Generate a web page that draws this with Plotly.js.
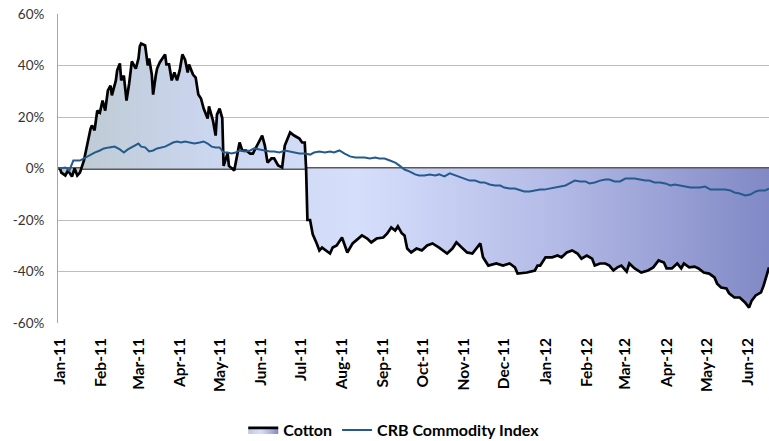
<!DOCTYPE html>
<html>
<head>
<meta charset="utf-8">
<script src="https://cdn.plot.ly/plotly-3.0.1.min.js"></script>
<style>html,body{margin:0;padding:0;background:#fff;}#chart{width:769px;height:441px;}</style>
</head>
<body>
<div id="chart"></div>
<script>
// Cotton (% change since Jan 2011)
var cottonDates = ['2011-01-01','2011-01-02','2011-01-05','2011-01-07','2011-01-10','2011-01-12','2011-01-14','2011-01-16','2011-01-19','2011-01-22','2011-01-24','2011-01-25','2011-01-27','2011-01-29','2011-01-31',
'2011-02-02','2011-02-04','2011-02-06','2011-02-08','2011-02-09','2011-02-12','2011-02-13','2011-02-15','2011-02-16','2011-02-18','2011-02-20','2011-02-22','2011-02-24','2011-02-27',
'2011-03-01','2011-03-02','2011-03-03','2011-03-06','2011-03-08','2011-03-09','2011-03-11','2011-03-12','2011-03-14','2011-03-15','2011-03-17','2011-03-18','2011-03-21','2011-03-22','2011-03-24','2011-03-26','2011-03-28','2011-03-30',
'2011-04-01','2011-04-03','2011-04-05','2011-04-07','2011-04-08','2011-04-11','2011-04-13','2011-04-15','2011-04-17','2011-04-19','2011-04-20','2011-04-22','2011-04-23','2011-04-25','2011-04-26','2011-04-28','2011-04-29',
'2011-05-01','2011-05-02','2011-05-03','2011-05-04','2011-05-07','2011-05-08','2011-05-10','2011-05-12','2011-05-16','2011-05-18','2011-05-21','2011-05-24','2011-05-26','2011-05-29',
'2011-06-02','2011-06-04','2011-06-06','2011-06-09','2011-06-11','2011-06-14','2011-06-17','2011-06-19','2011-06-23','2011-06-26','2011-06-30',
'2011-07-02','2011-07-04','2011-07-05','2011-07-06','2011-07-08','2011-07-10','2011-07-13','2011-07-15','2011-07-17','2011-07-20','2011-07-23','2011-07-25','2011-07-28',
'2011-08-01','2011-08-03','2011-08-05','2011-08-09','2011-08-12','2011-08-16','2011-08-20','2011-08-23','2011-08-27',
'2011-09-01','2011-09-04','2011-09-07','2011-09-10','2011-09-12','2011-09-15','2011-09-17','2011-09-19','2011-09-22','2011-09-26','2011-09-30',
'2011-10-04','2011-10-08','2011-10-13','2011-10-19','2011-10-23','2011-10-26','2011-10-30',
'2011-11-03','2011-11-07','2011-11-13','2011-11-15','2011-11-19','2011-11-25','2011-11-30',
'2011-12-05','2011-12-09','2011-12-11','2011-12-18','2011-12-24','2011-12-26','2011-12-28',
'2012-01-01','2012-01-06','2012-01-10','2012-01-13','2012-01-17','2012-01-21','2012-01-25','2012-01-28',
'2012-02-01','2012-02-05','2012-02-07','2012-02-11','2012-02-15','2012-02-18','2012-02-21','2012-02-24','2012-02-27',
'2012-03-02','2012-03-04','2012-03-08','2012-03-13','2012-03-18','2012-03-22','2012-03-26','2012-03-30',
'2012-04-01','2012-04-05','2012-04-09','2012-04-12','2012-04-14','2012-04-18','2012-04-22','2012-04-25','2012-04-29',
'2012-05-03','2012-05-07','2012-05-09','2012-05-12','2012-05-16','2012-05-18','2012-05-22','2012-05-26','2012-05-30',
'2012-06-02','2012-06-04','2012-06-07','2012-06-11','2012-06-13','2012-06-16','2012-06-17'];
var cottonValues = [0,-1.6,-2.7,-0.8,-3.1,0,-2.7,-1.6,3.1,10.9,15.5,16.7,14.8,22.5,21.7,
26.4,22.5,30.3,32.2,28.4,34.2,38.1,40.8,34.2,36.1,26.4,33.0,41.6,38.8,
42.7,47.4,48.5,47.8,40.0,42.7,36.5,28.7,36.1,38.8,41.2,42.0,44.3,40.4,40.4,34.2,37.3,34.2,
38.1,44.3,42.3,37.3,40.4,36.5,35.3,28.7,27.2,23.3,21.7,19.4,24.1,20.2,18.6,12.8,20.9,
23.3,20.9,19.5,1.0,6.0,1.0,0,-0.8,10.1,7.0,7.0,5.8,5.8,8.9,
12.8,8.9,2.3,3.9,3.9,1.2,0.4,8.9,14.0,12.8,11.6,
10.1,10.1,0,-20.0,-20.0,-25.6,-29.1,-31.8,-30.7,-31.8,-33.0,-30.7,-29.9,
-26.8,-29.9,-32.6,-29.1,-27.9,-26.0,-27.2,-28.7,-27.2,
-26.8,-25.2,-22.9,-24.1,-22.5,-25.2,-26.0,-31.1,-32.6,-31.1,-31.8,
-29.9,-29.1,-30.7,-33.0,-31.1,-28.7,-30.7,
-32.6,-33.0,-29.1,-34.5,-37.7,-36.9,-37.7,
-36.9,-38.4,-40.8,-40.4,-39.6,-37.7,-37.7,
-34.5,-34.5,-33.8,-34.5,-32.6,-31.8,-33.0,-35.0,
-33.8,-35.0,-37.7,-36.9,-36.9,-37.7,-39.6,-38.4,-37.7,
-40.0,-36.9,-38.8,-40.4,-39.6,-38.4,-35.7,-36.5,
-38.8,-38.8,-36.9,-38.8,-36.9,-38.4,-38.1,-38.8,-40.4,
-40.8,-42.3,-44.7,-46.2,-46.6,-48.5,-50.1,-50.1,-52.0,
-54.0,-51.3,-49.3,-48.1,-45.4,-40.4,-38.4];

// CRB Commodity Index (% change since Jan 2011)
var crbDates = ['2011-01-01','2011-01-05','2011-01-08','2011-01-11','2011-01-16','2011-01-20','2011-01-23','2011-01-27','2011-01-31',
'2011-02-03','2011-02-07','2011-02-11','2011-02-15','2011-02-18','2011-02-21','2011-02-24','2011-02-27',
'2011-03-01','2011-03-03','2011-03-06','2011-03-09','2011-03-12','2011-03-15','2011-03-18','2011-03-21','2011-03-24','2011-03-27','2011-03-30',
'2011-04-02','2011-04-05','2011-04-08','2011-04-12','2011-04-16','2011-04-19','2011-04-22','2011-04-25','2011-04-28',
'2011-05-01','2011-05-04','2011-05-07','2011-05-10','2011-05-13','2011-05-16','2011-05-20','2011-05-24','2011-05-27','2011-05-31',
'2011-06-04','2011-06-08','2011-06-11','2011-06-15','2011-06-19','2011-06-23','2011-06-26','2011-06-30',
'2011-07-04','2011-07-08','2011-07-11','2011-07-15','2011-07-19','2011-07-23','2011-07-26','2011-07-30',
'2011-08-03','2011-08-07','2011-08-11','2011-08-14','2011-08-18','2011-08-22','2011-08-26','2011-08-29',
'2011-09-02','2011-09-06','2011-09-10','2011-09-13','2011-09-17','2011-09-21','2011-09-25','2011-09-28',
'2011-10-02','2011-10-06','2011-10-10','2011-10-13','2011-10-17','2011-10-21','2011-10-25','2011-10-29',
'2011-11-01','2011-11-05','2011-11-09','2011-11-13','2011-11-16','2011-11-20','2011-11-24','2011-11-28',
'2011-12-01','2011-12-05','2011-12-09','2011-12-13','2011-12-16','2011-12-20','2011-12-24','2011-12-28','2011-12-31',
'2012-01-04','2012-01-08','2012-01-12','2012-01-16','2012-01-19','2012-01-23','2012-01-27','2012-01-31',
'2012-02-03','2012-02-07','2012-02-11','2012-02-15','2012-02-18','2012-02-22','2012-02-26',
'2012-03-01','2012-03-04','2012-03-08','2012-03-12','2012-03-16','2012-03-19','2012-03-23','2012-03-27','2012-03-31',
'2012-04-04','2012-04-07','2012-04-11','2012-04-15','2012-04-19','2012-04-22','2012-04-26','2012-04-30',
'2012-05-04','2012-05-07','2012-05-11','2012-05-15','2012-05-19','2012-05-22','2012-05-26','2012-05-30',
'2012-06-03','2012-06-07','2012-06-10','2012-06-14','2012-06-17'];
var crbValues = [0,0.4,-0.8,3.1,3.1,4.3,5.0,6.2,7.0,
7.8,8.2,8.5,7.4,6.2,7.4,8.2,8.9,
9.7,8.5,8.2,6.6,7.0,7.8,8.2,8.5,9.3,10.1,10.5,
10.1,10.5,10.1,9.7,10.1,10.5,9.7,8.5,8.2,
8.2,6.2,6.2,5.8,6.2,7.0,6.6,7.0,7.8,7.4,
7.0,6.6,6.6,6.2,7.0,6.6,6.2,5.8,
5.8,5.4,6.2,6.6,6.2,6.6,6.2,7.0,
5.8,4.7,4.3,4.3,4.3,3.9,4.3,3.9,
3.9,3.1,2.3,1.2,-0.4,-1.2,-2.3,-2.7,
-2.7,-2.3,-2.7,-2.3,-3.1,-1.9,-2.7,-3.5,
-3.9,-4.7,-4.7,-5.4,-5.4,-6.2,-6.6,-6.6,
-7.4,-7.8,-7.8,-8.5,-8.9,-8.9,-8.5,-8.2,-8.2,
-7.8,-7.4,-7.0,-6.6,-5.8,-4.7,-5.0,-5.0,
-5.8,-5.4,-4.7,-4.3,-4.3,-5.0,-5.0,
-3.9,-3.9,-3.9,-4.3,-4.7,-4.7,-5.4,-5.4,-5.8,
-6.6,-6.2,-6.6,-7.0,-7.4,-7.4,-7.4,-7.0,
-8.2,-8.2,-8.2,-8.2,-8.5,-9.3,-9.7,-10.5,
-10.1,-8.9,-8.5,-8.5,-7.8];

var tickDates = ['2011-01-01','2011-02-01','2011-03-01','2011-04-01','2011-05-01','2011-06-01','2011-07-01','2011-08-01','2011-09-01','2011-10-01','2011-11-01','2011-12-01','2012-01-01','2012-02-01','2012-03-01','2012-04-01','2012-05-01','2012-06-01'];
var tickLabels = ['Jan-11','Feb-11','Mar-11','Apr-11','May-11','Jun-11','Jul-11','Aug-11','Sep-11','Oct-11','Nov-11','Dec-11','Jan-12','Feb-12','Mar-12','Apr-12','May-12','Jun-12'];
var yTicks = [-60,-40,-20,0,20,40,60];
var yTickLabels = ['-60%','-40%','-20%','0%','20%','40%','60%'];

var traces = [
  {
    type: 'scatter', mode: 'lines', name: 'Cotton',
    x: cottonDates, y: cottonValues,
    fill: 'tozeroy',
    fillgradient: {
      type: 'horizontal',
      colorscale: [[0, '#bccacf'], [0.2, '#cad5ee'], [0.42, '#d5dffb'], [0.7, '#b3bae6'], [1, '#8189c6']]
    },
    line: {color: '#000000', width: 2.7},
    hoverinfo: 'skip'
  },
  {
    type: 'scatter', mode: 'lines', name: 'CRB Commodity Index',
    x: crbDates, y: crbValues,
    line: {color: '#255a8e', width: 2},
    hoverinfo: 'skip'
  }
];

var layout = {
  width: 769, height: 441,
  margin: {l: 58, r: 0, t: 14, b: 118},
  paper_bgcolor: '#ffffff', plot_bgcolor: '#ffffff',
  font: {family: 'Lato, "Liberation Sans", sans-serif', color: '#000'},
  showlegend: true,
  legend: {
    orientation: 'h', xref: 'container', yref: 'container',
    x: 0.512, xanchor: 'center', y: 0.025, yanchor: 'middle',
    font: {size: 16, family: 'Lato, sans-serif', weight: 'bold', color: '#000'},
    itemwidth: 30, tracegroupgap: 0, traceorder: 'normal'
  },
  xaxis: {
    type: 'date',
    range: ['2010-12-30T12:00', '2012-06-17'],
    tickmode: 'array', tickvals: tickDates, ticktext: tickLabels,
    tickangle: -90,
    tickfont: {size: 15.5, family: 'Lato, sans-serif', weight: 'bold', color: '#000'},
    showgrid: false, zeroline: false, showline: false,
    ticks: '', ticklabelstandoff: 11
  },
  yaxis: {
    range: [-60, 60],
    tickmode: 'array', tickvals: yTicks, ticktext: yTickLabels,
    tickfont: {size: 13.5, family: 'Lato, sans-serif', color: '#333'},
    showgrid: true, gridcolor: '#bdbdbd', gridwidth: 1,
    zeroline: true, zerolinecolor: '#5a5a5a', zerolinewidth: 2.5,
    showline: true, linecolor: '#a6a6a6', linewidth: 1,
    ticks: '', ticklabelstandoff: 10
  }
};

Plotly.newPlot('chart', traces, layout, {displayModeBar: false, staticPlot: true});
</script>
</body>
</html>
